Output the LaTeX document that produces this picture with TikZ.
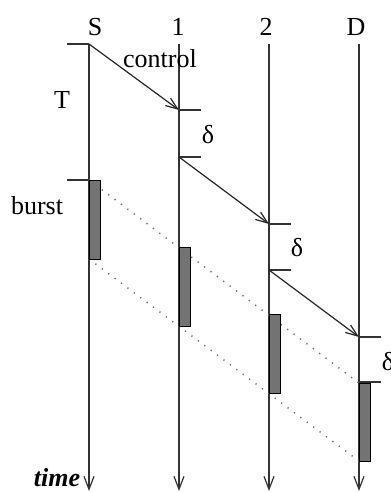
\documentclass[tikz,border=0pt]{standalone}
\usepackage{fontspec}
\setmainfont{Liberation Serif}
\usetikzlibrary{arrows.meta}

\begin{document}
\begin{tikzpicture}[x=0.5pt,y=-0.5pt,line width=0.6pt,
                    font=\fontsize{13}{15}\selectfont,
                    time line/.style={draw=black!80,-{Straight Barb[length=6.5pt,width=5pt]}},
                    msg/.style={draw=black!85,-{Straight Barb[length=6pt,width=4.5pt]}},
                    tick/.style={draw=black!80},
                    burst box/.style={draw=black,fill=black!55,line width=0.5pt},
                    copy/.style={draw=black!60,line width=0.7pt,dash pattern=on 0.6pt off 3.4pt}]

  \useasboundingbox (0,0) rectangle (391,493);

  % station names
  \node (S) at (95,27) {S};
  \node (1) at (178,27) {1};
  \node (2) at (266,27) {2};
  \node (D) at (356,27) {D};

  % one time axis per station
  \foreach \n/\x in {S/89,1/179,2/269,D/359}{
    \coordinate (\n-top) at (\x,44);
    \coordinate (\n-end) at (\x,491);
    \draw[time line] (\n-top) -- (\n-end);
  }

  % control packet: arrival / departure at each hop
  \coordinate (S-out) at (89,44);
  \coordinate (1-in) at (179,110);
  \coordinate (1-out) at (179,157);
  \coordinate (2-in) at (269,224);
  \coordinate (2-out) at (269,270);
  \coordinate (D-in) at (359,337);
  \coordinate (D-out) at (359,382);

  % burst on each axis
  \coordinate (b0) at (89,180);   \coordinate (e0) at (89,259);
  \coordinate (b1) at (179,247);  \coordinate (e1) at (179,326);
  \coordinate (b2) at (269,314);  \coordinate (e2) at (269,393);
  \coordinate (b3) at (359,383);  \coordinate (e3) at (359,461);

  \draw[tick] (S-out) -- ++(-22,0);
  \draw[tick] (b0) -- ++(-22,0);
  \foreach \n in {1,2,D}{
    \draw[tick] (\n-in) -- ++(22,0);
    \draw[tick] (\n-out) -- ++(22,0);
  }

  \path (S-out) edge[msg] (1-in)
        (1-out) edge[msg] (2-in)
        (2-out) edge[msg] (D-in);

  \draw[copy] (b0) -- (b3);
  \draw[copy] (e0) -- (e3);

  \foreach \i in {0,...,3}
    \draw[burst box] (b\i) rectangle ([xshift=5.5pt]e\i);

  % labels
  \node (ctl) at (160,59) {control};
  \node (T) at (62,100) {T};
  \node (bst) at (37,206) {burst};
  \node (d1) at (208,135) {δ};
  \node (d2) at (297,248) {δ};
  \node (d3) at (388,362) {δ};
  \node (tm) at (57,478) {\bfseries\itshape time};

\end{tikzpicture}
\end{document}
